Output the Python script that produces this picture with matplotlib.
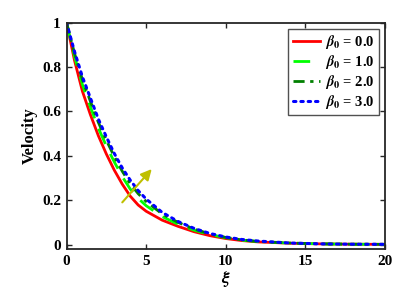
#!/usr/bin/env python3
import matplotlib
matplotlib.use("Agg")
import matplotlib.pyplot as plt
from matplotlib.ticker import FuncFormatter

plt.rcParams["font.family"] = ["Liberation Serif", "DejaVu Serif"]
plt.rcParams["font.weight"] = "bold"
plt.rcParams["mathtext.fontset"] = "stix"

# velocity profiles
xi = [0, 0.5, 1, 1.5, 2, 2.5, 3, 3.5, 4, 4.5, 5, 6, 7, 8, 9, 10, 11, 12, 14, 16, 18, 20]
vel_b0 = [1.0, 0.83, 0.69, 0.585, 0.49, 0.408, 0.335, 0.272, 0.218, 0.178, 0.15, 0.11,
          0.082, 0.058, 0.04, 0.027, 0.018, 0.012, 0.006, 0.003, 0.0015, 0.001]
vel_b1 = [1.0, 0.848, 0.72, 0.62, 0.524, 0.444, 0.372, 0.306, 0.25, 0.208, 0.175, 0.126,
          0.092, 0.065, 0.045, 0.031, 0.02, 0.0135, 0.0065, 0.003, 0.0015, 0.001]
vel_b2 = [1.0, 0.862, 0.742, 0.645, 0.55, 0.47, 0.396, 0.33, 0.274, 0.229, 0.194, 0.138,
          0.10, 0.07, 0.048, 0.032, 0.021, 0.014, 0.007, 0.003, 0.0015, 0.001]
vel_b3 = [1.0, 0.87, 0.755, 0.66, 0.565, 0.485, 0.41, 0.345, 0.29, 0.243, 0.205, 0.145,
          0.104, 0.073, 0.05, 0.034, 0.023, 0.016, 0.007, 0.003, 0.0015, 0.001]
labels = [r"$\beta_0$ = 0.0", r"$\beta_0$ = 1.0", r"$\beta_0$ = 2.0", r"$\beta_0$ = 3.0"]

arrow_start = (3.5, 0.19)
arrow_end = (5.35, 0.34)

fig = plt.figure(figsize=(4.08, 3.0), dpi=100)
ax = fig.add_axes([0.163, 0.17, 0.781, 0.755])

ax.plot(xi, vel_b0, color="#ff0000", lw=2.0, ls="-", label=labels[0])
ax.plot(xi, vel_b1, color="#00ff00", lw=2.0, ls=(0, (6, 4)), label=labels[1])
ax.plot(xi, vel_b2, color="#008000", lw=2.0, ls=(0, (4, 2, 1.2, 2)), label=labels[2])
ax.plot(xi, vel_b3, color="#0000ff", lw=2.2, ls=(0, (0.8, 1.6)),
        dash_capstyle="round", label=labels[3])

ax.annotate("", xy=arrow_end, xytext=arrow_start,
            arrowprops=dict(arrowstyle="-|>", color="#bfbf00", lw=1.5,
                            mutation_scale=16, shrinkA=0, shrinkB=0))

ax.set_xlim(0, 20)
ax.set_ylim(-0.02, 1.0)
ax.set_xticks([0, 5, 10, 15, 20])
ax.set_yticks([0, 0.2, 0.4, 0.6, 0.8, 1.0])
ax.yaxis.set_major_formatter(FuncFormatter(lambda v, p: f"{v:g}"))
ax.tick_params(direction="in", top=True, right=True, length=3.5, width=1.0,
               labelsize=11, colors="#262626", pad=4)
for lab in ax.get_xticklabels() + ax.get_yticklabels():
    lab.set_fontweight("bold")
    lab.set_color("black")
for sp in ax.spines.values():
    sp.set_linewidth(1.3)
    sp.set_color("#262626")

ax.set_xlabel(r"$\xi$", fontsize=13, labelpad=1)
ax.set_ylabel("Velocity", fontsize=12, fontweight="bold", labelpad=3)

leg = ax.legend(loc="upper right", fontsize=10.5, handlelength=1.9, handletextpad=0.3,
                labelspacing=0.12, borderpad=0.3, borderaxespad=0.45,
                fancybox=False, edgecolor="#262626")
leg.get_frame().set_linewidth(1.0)
for t in leg.get_texts():
    t.set_fontweight("bold")

fig.savefig("out.png", dpi=100)
